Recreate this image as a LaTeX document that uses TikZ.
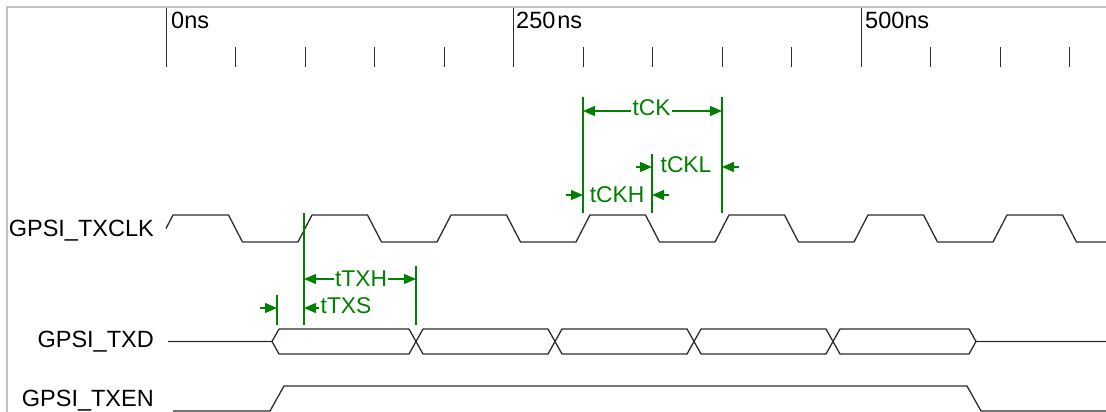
\documentclass[tikz,border=0pt]{standalone}
\usepackage{fontspec}
\setmainfont{Liberation Sans}
\usetikzlibrary{arrows.meta}
\definecolor{dimgreen}{RGB}{0,128,0}
\definecolor{wave}{RGB}{45,45,45}
\definecolor{framec}{RGB}{192,192,192}
\begin{document}
\begin{tikzpicture}[x=1pt,y=-1pt,
  wavel/.style={draw=wave,line width=1.3pt,line join=miter},
  tickl/.style={draw=wave,line width=1pt},
  dimline/.style={draw=dimgreen,line width=1.2pt},
  dimarr/.style={draw=dimgreen,line width=1.2pt,-{Triangle[length=12pt,width=10pt]}},
  dimtext/.style={text=dimgreen,font=\fontsize{22.8}{27}\selectfont,inner ysep=0pt,inner xsep=1pt,anchor=base},
  sig/.style={font=\fontsize{23.5}{28}\selectfont,anchor=base east,inner sep=0pt},
  tlabel/.style={font=\fontsize{23.5}{28}\selectfont,anchor=base west,inner sep=0pt}]
\useasboundingbox (0,0) rectangle (1106,412);
% frame
\draw[framec,line width=2pt] (7,412) -- (7,7) -- (1106,7);
% time axis
\foreach \i in {1,2,3,4,6,7,8,9,11,12,13}
  \draw[tickl] ({166+69.5*\i},47) -- ({166+69.5*\i},67);
\foreach \i in {0,5,10}
  \draw[tickl] ({166+69.5*\i},8) -- ({166+69.5*\i},67);
\node[tlabel] (t0) at (171,29) {0ns};
\node[tlabel] (t250) at (516,29) {250\kern2pt ns};
\node[tlabel] (t500) at (865,29) {500ns};
% signal names
\node[sig] (lclk) at (154,236) {GPSI\_TXCLK};
\node[sig] (ltxd) at (154,347) {GPSI\_TXD};
\node[sig] (ltxen) at (154,406) {GPSI\_TXEN};
% clock
\draw[wavel] (166,228.5) -- (173,215) -- (228.5,215) -- (242.5,242) -- (298,242) -- (312,215)
  -- (367.5,215) -- (381.5,242) -- (437,242) -- (451,215) -- (506.5,215) -- (520.5,242)
  -- (576,242) -- (590,215) -- (645.5,215) -- (659.5,242) -- (715,242) -- (729,215)
  -- (784.5,215) -- (798.5,242) -- (854,242) -- (868,215) -- (923.5,215) -- (937.5,242)
  -- (993,242) -- (1007,215) -- (1062.5,215) -- (1076.5,242) -- (1106,242);
% data
\draw[wavel] (168,341.5) -- (272,341.5) -- (279,329) -- (409,329) -- (423,354) -- (548,354)
  -- (562,329) -- (687,329) -- (701,354) -- (826,354) -- (840,329) -- (969,329)
  -- (976,341.5) -- (1106,341.5);
\draw[wavel] (272,341.5) -- (279,354) -- (409,354) -- (423,329) -- (548,329) -- (562,354)
  -- (687,354) -- (701,329) -- (826,329) -- (840,354) -- (969,354) -- (976,341.5);
% enable
\draw[wavel] (173,411) -- (270,411) -- (284,386) -- (967,386) -- (981,411) -- (1106,411);
% dimension extension lines
\coordinate (ck1t) at (583,97);  \coordinate (ck1b) at (583,213);
\coordinate (ck2t) at (722,97);  \coordinate (ck2b) at (722,213);
\coordinate (ckht) at (652,154); \coordinate (ckhb) at (652,213);
\coordinate (tx1t) at (304,213); \coordinate (tx1b) at (304,325);
\coordinate (tx2t) at (416,266); \coordinate (tx2b) at (416,325);
\coordinate (tx3t) at (277,295); \coordinate (tx3b) at (277,325);
\draw[dimline] (ck1t) -- (ck1b);
\draw[dimline] (ck2t) -- (ck2b);
\draw[dimline] (ckht) -- (ckhb);
\draw[dimline] (tx1t) -- (tx1b);
\draw[dimline] (tx2t) -- (tx2b);
\draw[dimline] (tx3t) -- (tx3b);
% tCK
\node[dimtext] (tck) at (651.5,115) {tCK};
\coordinate (a1) at (583,111); \coordinate (a2) at (722,111);
\draw[dimarr] (tck.west |- a1) -- (a1);
\draw[dimarr] (tck.east |- a2) -- (a2);
% tCKL
\node[dimtext] (tckl) at (686,172) {tCKL};
\coordinate (b1) at (636,167); \coordinate (b2) at (652,167);
\coordinate (b3) at (739,167); \coordinate (b4) at (722,167);
\draw[dimarr] (b1) -- (b2);
\draw[dimarr] (b3) -- (b4);
% tCKH
\node[dimtext] (tckh) at (617,202) {tCKH};
\coordinate (c1) at (566,195); \coordinate (c2) at (583,195);
\coordinate (c3) at (669,195); \coordinate (c4) at (652,195);
\draw[dimarr] (c1) -- (c2);
\draw[dimarr] (c3) -- (c4);
% tTXH
\node[dimtext] (ttxh) at (361,286) {tTXH};
\coordinate (d1) at (304,279); \coordinate (d2) at (416,279);
\draw[dimarr] (ttxh.west |- d1) -- (d1);
\draw[dimarr] (ttxh.east |- d2) -- (d2);
% tTXS
\node[dimtext] (ttxs) at (346,313) {tTXS};
\coordinate (e1) at (260,308); \coordinate (e2) at (277,308);
\coordinate (e3) at (304,308);
\draw[dimarr] (e1) -- (e2);
\draw[dimarr] (ttxs.west |- e3) -- (e3);
\end{tikzpicture}
\end{document}
